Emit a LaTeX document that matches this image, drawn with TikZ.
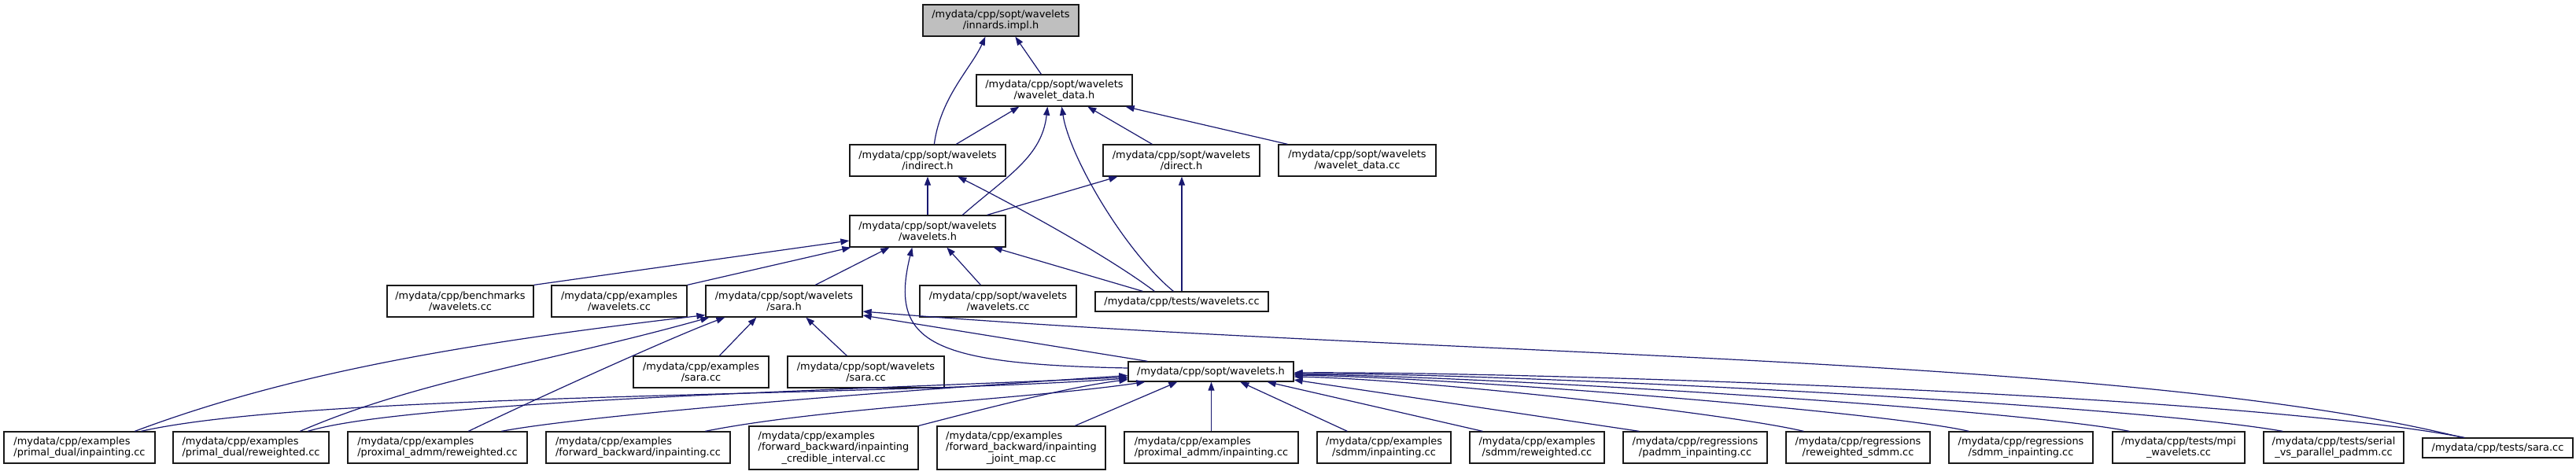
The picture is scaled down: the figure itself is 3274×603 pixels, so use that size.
\documentclass[tikz,border=0pt]{standalone}
\usepackage{fontspec}
\setmainfont{DejaVu Sans}
\usetikzlibrary{arrows.meta}
\definecolor{edgecol}{HTML}{191970}
\definecolor{rootfill}{HTML}{BFBFBF}
\begin{document}
\begin{tikzpicture}[x=1pt,y=-1pt,
  filebox/.style={draw=black!90, line width=1.3pt, fill=white, inner sep=0pt,
    font=\fontsize{12.9pt}{14.5pt}\selectfont, align=center, minimum height=40pt},
  lbox/.style={filebox, align=left},
  dep/.style={draw=edgecol, line width=1.2pt, -{Triangle[length=11pt,width=8pt]}}]
\useasboundingbox (0,0) rectangle (3274,603);
% ---- nodes
\node[filebox, fill=rootfill, minimum width=198pt] (innards) at (1272,26) {/mydata/cpp/sopt/wavelets\\/innards.impl.h};
\node[filebox, minimum width=198pt] (wdatah) at (1340,115) {/mydata/cpp/sopt/wavelets\\/wavelet\_data.h};
\node[filebox, minimum width=198pt] (indirect) at (1179,204) {/mydata/cpp/sopt/wavelets\\/indirect.h};
\node[filebox, minimum width=199pt] (direct) at (1501.5,204) {/mydata/cpp/sopt/wavelets\\/direct.h};
\node[filebox, minimum width=200pt] (wdatacc) at (1725,204) {/mydata/cpp/sopt/wavelets\\/wavelet\_data.cc};
\node[filebox, minimum width=198pt] (waveh) at (1179,294) {/mydata/cpp/sopt/wavelets\\/wavelets.h};
\node[filebox, minimum width=186pt] (bench) at (585,383) {/mydata/cpp/benchmarks\\/wavelets.cc};
\node[filebox, minimum width=172pt] (exwav) at (787,383) {/mydata/cpp/examples\\/wavelets.cc};
\node[filebox, minimum width=199pt] (sarah) at (996.5,383) {/mydata/cpp/sopt/wavelets\\/sara.h};
\node[filebox, minimum width=199pt] (soptwavcc) at (1268.5,383) {/mydata/cpp/sopt/wavelets\\/wavelets.cc};
\node[filebox, minimum width=220pt, minimum height=25pt] (testswav) at (1502,383.5) {/mydata/cpp/tests/wavelets.cc};
\node[filebox, minimum width=172pt] (exsara) at (891,473) {/mydata/cpp/examples\\/sara.cc};
\node[filebox, minimum width=199pt] (soptsara) at (1100.5,473) {/mydata/cpp/sopt/wavelets\\/sara.cc};
\node[filebox, minimum width=210pt, minimum height=25pt] (soptwh) at (1539,472.5) {/mydata/cpp/sopt/wavelets.h};
% bottom row
\node[lbox, minimum width=192pt] (pdinp) at (101,569) {/mydata/cpp/examples\\/primal\_dual/inpainting.cc};
\node[lbox, minimum width=198pt] (pdrew) at (319,569) {/mydata/cpp/examples\\/primal\_dual/reweighted.cc};
\node[lbox, minimum width=228pt] (parew) at (556,569) {/mydata/cpp/examples\\/proximal\_admm/reweighted.cc};
\node[lbox, minimum width=234pt] (fbinp) at (811,569) {/mydata/cpp/examples\\/forward\_backward/inpainting.cc};
\node[lbox, minimum width=215pt, minimum height=55pt] (fbcred) at (1059.5,569.5) {/mydata/cpp/examples\\/forward\_backward/inpainting\\\hfill\_credible\_interval.cc\hfill\hbox{}};
\node[lbox, minimum width=214pt, minimum height=55pt] (fbjoint) at (1298,569.5) {/mydata/cpp/examples\\/forward\_backward/inpainting\\\hfill\_joint\_map.cc\hfill\hbox{}};
\node[lbox, minimum width=221pt] (painp) at (1539.5,569) {/mydata/cpp/examples\\/proximal\_admm/inpainting.cc};
\node[filebox, minimum width=170pt] (sdinp) at (1759,569) {/mydata/cpp/examples\\/sdmm/inpainting.cc};
\node[filebox, minimum width=171pt] (sdrew) at (1953.5,569) {/mydata/cpp/examples\\/sdmm/reweighted.cc};
\node[filebox, minimum width=183pt] (regpadmm) at (2154.5,569) {/mydata/cpp/regressions\\/padmm\_inpainting.cc};
\node[filebox, minimum width=183pt] (regrsdmm) at (2361.5,569) {/mydata/cpp/regressions\\/reweighted\_sdmm.cc};
\node[filebox, minimum width=183pt] (regsdinp) at (2568.5,569) {/mydata/cpp/regressions\\/sdmm\_inpainting.cc};
\node[filebox, minimum width=168pt] (mpi) at (2769,569) {/mydata/cpp/tests/mpi\\\_wavelets.cc};
\node[filebox, minimum width=178pt] (serial) at (2966,569) {/mydata/cpp/tests/serial\\\_vs\_parallel\_padmm.cc};
\node[filebox, minimum width=191pt, minimum height=25pt] (tsara) at (3174.5,569.5) {/mydata/cpp/tests/sara.cc};
% ---- edges (includer -> included)
\draw[dep] ([xshift=108pt]indirect.north west) .. controls +(8,-60) and +(-18,40) .. ([xshift=80pt]innards.south west);
\draw[dep] ([xshift=83pt]wdatah.north west) -- ([xshift=118pt]innards.south west);
\draw[dep] ([xshift=136pt]indirect.north west) -- ([xshift=55pt]wdatah.south west);
\draw[dep] ([xshift=144pt]waveh.north west) .. controls +(56,-49) and +(-7,64) .. ([xshift=91pt]wdatah.south west);
\draw[dep] ([xshift=63pt]direct.north west) -- ([xshift=142pt]wdatah.south west);
\draw[dep] ([xshift=12pt]wdatacc.north west) -- ([xshift=-9pt]wdatah.south east);
\draw[dep] ([xshift=100pt]testswav.north west) .. controls +(-62,-51) and +(10,64) .. ([xshift=109pt]wdatah.south west);
\draw[dep] (waveh.north) -- (indirect.south);
\draw[dep] ([xshift=76pt]testswav.north west) .. controls +(-68,-51) and +(52,26) .. ([xshift=138pt]indirect.south west);
\draw[dep] ([xshift=-24pt]waveh.north east) -- ([xshift=19pt]direct.south west);
\draw[dep] (testswav.north) -- (testswav.north |- direct.south);
\draw[dep] (bench.north east) -- ([yshift=-12pt]waveh.west);
\draw[dep] (exwav.north east) -- ([xshift=2pt]waveh.south west);
\draw[dep] ([xshift=140pt]sarah.north west) -- ([xshift=51pt]waveh.south west);
\draw[dep] ([xshift=78pt]soptwavcc.north west) -- ([xshift=124pt]waveh.south west);
\draw[dep] ([xshift=61pt]testswav.north west) -- ([xshift=-16pt]waveh.south east);
\draw[dep] ([yshift=4.5pt]soptwh.west) .. controls +(-250,-5) and +(-30,122) .. ([xshift=80pt]waveh.south west);
% into sara.h
\draw[dep] ([xshift=110pt]exsara.north west) -- ([xshift=65pt]sarah.south west);
\draw[dep] ([xshift=76pt]soptsara.north west) -- ([xshift=128pt]sarah.south west);
\draw[dep] ([xshift=25pt]soptwh.north west) -- ([yshift=-18pt]sarah.east);
\draw[dep] ([xshift=51pt]tsara.north west) .. controls +(-430,-107) and +(703,58) .. ([yshift=-13pt]sarah.east);
\draw[dep] ([xshift=167pt]pdinp.north west) .. controls +(200,-75) and +(-300,35) .. ([yshift=3pt]sarah.south west);
\draw[dep] ([xshift=162pt]pdrew.north west) .. controls +(150,-65) and +(-200,56) .. ([xshift=5pt]sarah.south west);
\draw[dep] ([xshift=154pt]parew.north west) .. controls +(100,-48) and +(-60,22) .. ([xshift=25pt]sarah.south west);
% into sopt/wavelets.h
\draw[dep] ([xshift=175pt]pdinp.north west) .. controls +(217,-49) and +(-334,24) .. ([yshift=-8.5pt]soptwh.west);
\draw[dep] ([xshift=172pt]pdrew.north west) .. controls +(128,-39) and +(-334,16) .. ([yshift=-7pt]soptwh.west);
\draw[dep] ([xshift=196pt]parew.north west) .. controls +(100,-19) and +(-350,23) .. ([yshift=-5pt]soptwh.west);
\draw[dep] ([xshift=203pt]fbinp.north west) .. controls +(150,-30) and +(-150,22) .. ([xshift=22pt]soptwh.south west);
\draw[dep] (fbcred.north east) .. controls +(70,-18) and +(-80,10) .. ([yshift=3pt]soptwh.south west);
\draw[dep] ([xshift=176pt]fbjoint.north west) -- ([xshift=63pt]soptwh.south west);
\draw[dep] (painp.north) -- (painp.north |- soptwh.south);
\draw[dep] ([xshift=39pt]sdinp.north west) -- ([xshift=143pt]soptwh.south west);
\draw[dep] ([xshift=17pt]sdrew.north west) -- ([xshift=-34pt]soptwh.south east);
\draw[dep] ([xshift=21pt]regpadmm.north west) -- ([yshift=-10.5pt]soptwh.east);
\draw[dep] ([xshift=23pt]regrsdmm.north west) .. controls +(-103,-24) and +(156,3) .. ([yshift=-6.5pt]soptwh.east);
\draw[dep] ([xshift=26pt]regsdinp.north west) .. controls +(-103,-24) and +(206,3) .. ([yshift=-4.5pt]soptwh.east);
\draw[dep] ([xshift=22pt]mpi.north west) .. controls +(-150,-29) and +(236,2) .. ([yshift=-3.5pt]soptwh.east);
\draw[dep] ([xshift=25pt]serial.north west) .. controls +(-200,-35) and +(256,-1) .. ([yshift=-2.5pt]soptwh.east);
\draw[dep] ([xshift=54pt]tsara.north west) .. controls +(-300,-57) and +(256,-2) .. ([yshift=-1.5pt]soptwh.east);
\end{tikzpicture}
\end{document}
